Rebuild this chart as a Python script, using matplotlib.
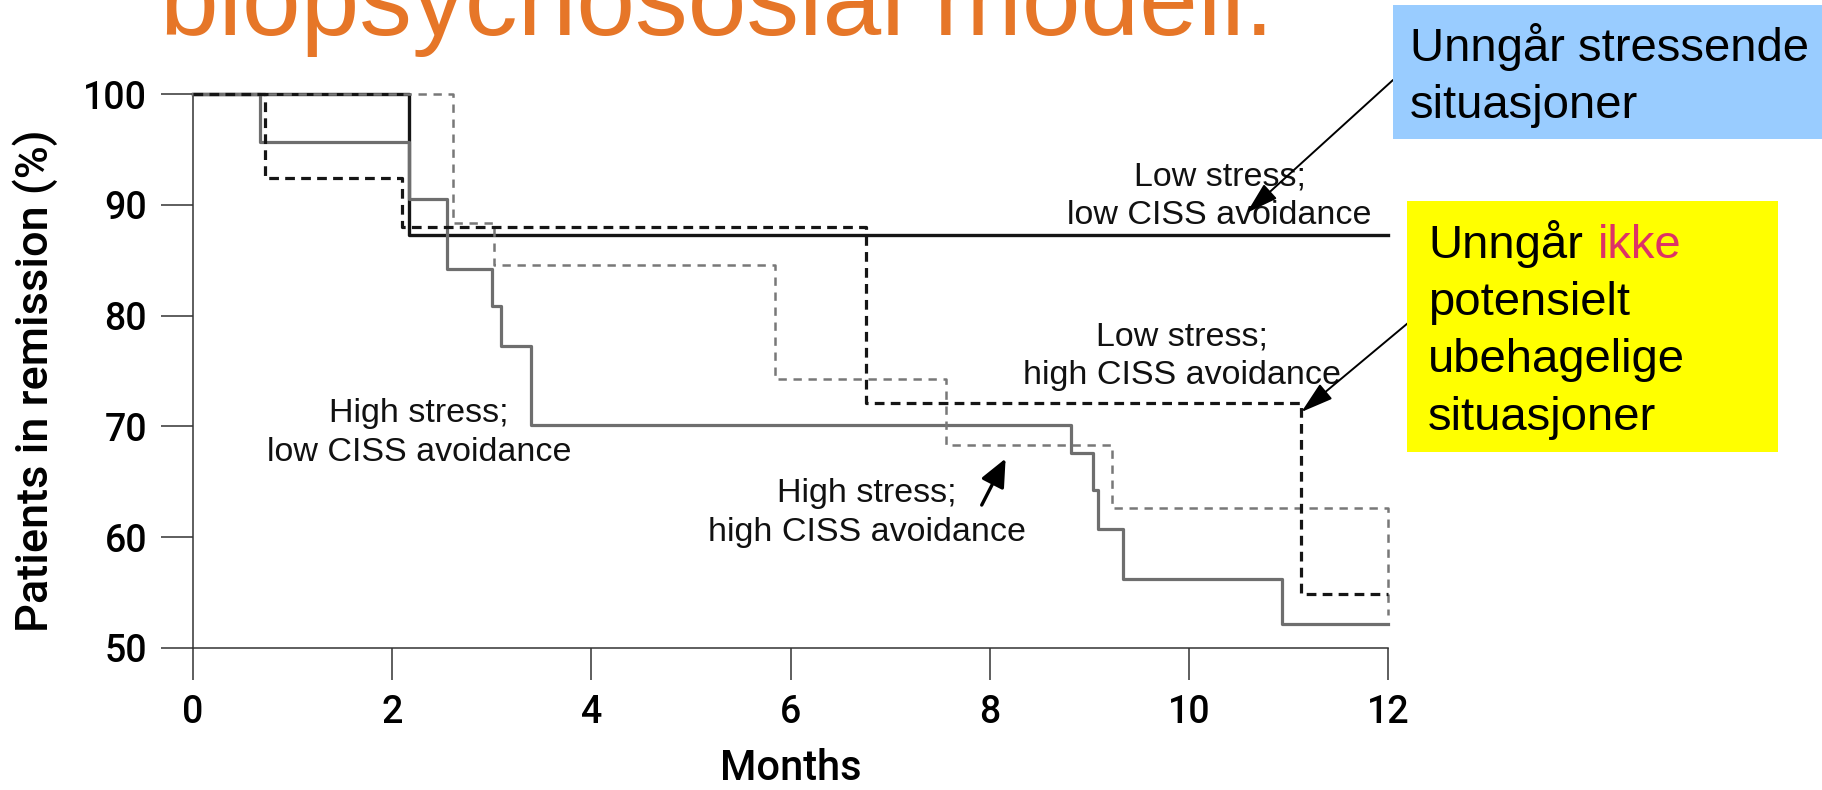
import matplotlib
matplotlib.use("Agg")
import matplotlib.pyplot as plt
from matplotlib.patches import Rectangle

plt.rcParams['lines.scale_dashes'] = False

# Kaplan-Meier style curves (months, % in remission)
low_low_t = [0, 2.17, 12]
low_low_v = [100, 87.25, 87.25]

high_low_t = [0, 0.67, 2.17, 2.55, 3.0, 3.09, 3.39, 8.82, 9.04, 9.09, 9.34, 10.94, 12]
high_low_v = [100, 95.7, 90.5, 84.2, 80.9, 77.3, 70.1, 67.6, 64.3, 60.7, 56.2, 52.2, 52.2]

low_high_t = [0, 0.72, 2.1, 6.76, 11.13, 12]
low_high_v = [100, 92.4, 88.0, 72.1, 54.9, 54.9]

high_high_t = [0, 2.61, 3.02, 5.84, 7.56, 9.23, 12]
high_high_v = [100, 88.4, 84.6, 74.25, 68.3, 62.6, 53.0]

x_ticks = [0, 2, 4, 6, 8, 10, 12]
y_ticks = [50, 60, 70, 80, 90, 100]

W, H = 1822, 790


def fx(px):
    return px / W


def fy(py):
    return 1 - py / H


fig = plt.figure(figsize=(W / 100, H / 100), dpi=100)
ax = fig.add_axes([fx(193), fy(648), (1388 - 193) / W, (648 - 94) / H])

# title, cut at the top edge
fig.text(fx(160), fy(35), 'biopsychososial modell.', fontsize=76,
         color='#E67628', family='Liberation Sans', va='baseline')

ax.step(low_low_t, low_low_v, where='post', color='#151515', lw=2.4,
        clip_on=False, zorder=2)
ax.step(high_low_t, high_low_v, where='post', color='#6e6e6e', lw=2.3,
        clip_on=False, zorder=3)
ax.step(high_high_t, high_high_v, where='post', color='#787878', lw=1.8,
        dashes=(6, 4.8), clip_on=False, zorder=4)
ax.step(low_high_t, low_high_v, where='post', color='#151515', lw=2.3,
        dashes=(7, 4.5), clip_on=False, zorder=5)

ax.set_xlim(0, 12)
ax.set_ylim(50, 100)
ax.set_xticks(x_ticks)
ax.set_yticks(y_ticks)
for s in ['top', 'right']:
    ax.spines[s].set_visible(False)
for s in ['left', 'bottom']:
    ax.spines[s].set_linewidth(1.1)
    ax.spines[s].set_color('#333333')
ax.tick_params(length=23, width=1.1, pad=10, labelsize=27, color='#333333')
for lab in ax.get_xticklabels() + ax.get_yticklabels():
    lab.set_family('Roboto')
    lab.set_fontweight('medium')

ax.set_xlabel('Months', fontsize=30, family='Roboto', fontweight='medium')
ax.xaxis.set_label_coords(0.5, -0.18)
ax.set_ylabel('Patients in remission (%)', fontsize=32.5, family='Roboto',
              fontweight='medium')
ax.yaxis.set_label_coords(-0.113, 0.482)

lab_kw = dict(fontsize=24.5, family='Liberation Sans', color='#111111',
              ha='center', va='center', linespacing=1.32)
ax.text(10.31, 90.8, 'Low stress;\nlow CISS avoidance', **lab_kw)
ax.text(9.93, 76.3, 'Low stress;\nhigh CISS avoidance', **lab_kw)
ax.text(2.27, 69.4, 'High stress;\nlow CISS avoidance', **lab_kw)
ax.text(6.77, 62.2, 'High stress;\nhigh CISS avoidance', **lab_kw)

# short arrow to the high/high curve
ax.annotate('', xy=(8.16, 67.1), xytext=(7.92, 62.9),
            arrowprops=dict(arrowstyle='-|>,head_length=0.85,head_width=0.38',
                            color='black', lw=2.4, shrinkA=0, shrinkB=0,
                            mutation_scale=20))

# callout boxes
fig.patches.append(Rectangle((fx(1393), fy(139)), (1822 - 1393) / W, (139 - 5) / H,
                             transform=fig.transFigure, facecolor='#99CCFF',
                             edgecolor='none', zorder=0))
fig.patches.append(Rectangle((fx(1407), fy(452)), (1778 - 1407) / W, (452 - 201) / H,
                             transform=fig.transFigure, facecolor='#FFFF00',
                             edgecolor='none', zorder=0))

box_kw = dict(fontsize=34, family='Liberation Sans', color='black', va='baseline')
fig.text(fx(1410), fy(61), 'Unngår stressende', **box_kw)
fig.text(fx(1410), fy(118), 'situasjoner', **box_kw)
fig.text(fx(1428), fy(258), 'Unngår', **box_kw)
fig.text(fx(1598), fy(258), 'ikke', fontsize=34, family='Liberation Sans',
         color='#DD3366', va='baseline')
fig.text(fx(1428), fy(315), 'potensielt', **box_kw)
fig.text(fx(1428), fy(372), 'ubehagelige', **box_kw)
fig.text(fx(1428), fy(430), 'situasjoner', **box_kw)

arrow_kw = dict(arrowstyle='-|>,head_length=1.0,head_width=0.3', color='black',
                lw=1.4, shrinkA=0, shrinkB=0, mutation_scale=20)
ax.annotate('', xy=(10.58, 89.26), xytext=(fx(1393), fy(80)),
            textcoords='figure fraction', arrowprops=arrow_kw, annotation_clip=False)
ax.annotate('', xy=(11.13, 71.3), xytext=(fx(1408), fy(323)),
            textcoords='figure fraction', arrowprops=arrow_kw, annotation_clip=False)

fig.savefig('out.png', dpi=100)
